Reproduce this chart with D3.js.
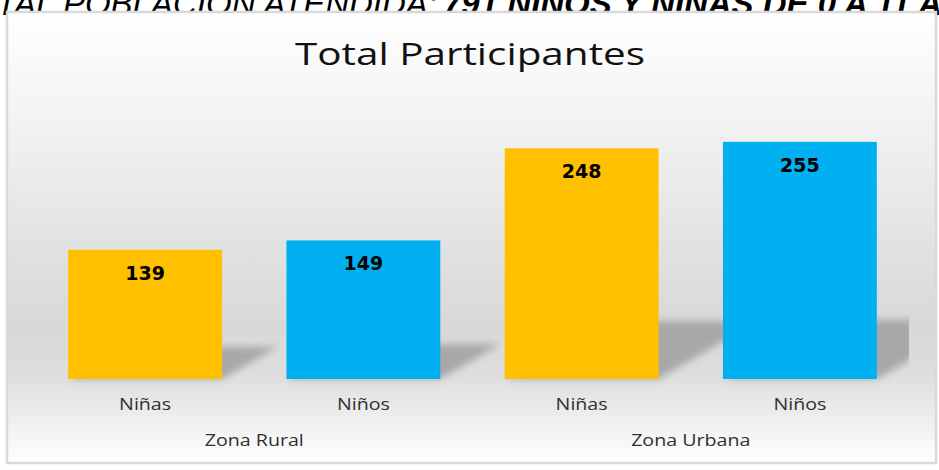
<!DOCTYPE html>
<html>
<head>
<meta charset="utf-8">
<script src="https://cdn.jsdelivr.net/npm/d3@7"></script>
<style>
  html, body { margin: 0; padding: 0; background: #ffffff; }
  svg { display: block; }
</style>
</head>
<body>
<svg id="chart" width="939" height="470"></svg>
<script>
// Participants by zone and sex
const zones = ["Zona Rural", "Zona Urbana"];
const groups = ["Niñas", "Niños"];
const categories = ["Rural|Niñas", "Rural|Niños", "Urbana|Niñas", "Urbana|Niños"];
const values = [139, 149, 248, 255];
const barColors = ["#FFC000", "#00B0F0", "#FFC000", "#00B0F0"];
const title = "Total Participantes";
const headerPlain = "TOTAL POBLACIÓN ATENDIDA:";
const headerBold = "791 NIÑOS Y NIÑAS DE 0 A 11 AÑOS";

const svg = d3.select("#chart");
const box = { x: 7, y: 12, w: 929, h: 451 };
const plot = { left: 36, right: 909, top: 100, bottom: 379 };
const stretch = 1.19;   // labels are set slightly wide

const defs = svg.append("defs");

// Background gradient of the chart frame
const bg = defs.append("linearGradient").attr("id", "bgGrad")
  .attr("x1", 0).attr("y1", 0).attr("x2", 0).attr("y2", 1);
[[0, "#ffffff"], [0.25, "#f2f2f2"], [0.55, "#e0e0e0"], [0.70, "#d8d8d8"], [0.80, "#dddddd"], [1, "#ffffff"]]
  .forEach(([o, c]) => bg.append("stop").attr("offset", o).attr("stop-color", c));

const blur = defs.append("filter").attr("id", "shadowBlur")
  .attr("x", "-30%").attr("y", "-30%").attr("width", "160%").attr("height", "160%");
blur.append("feGaussianBlur").attr("stdDeviation", 3.5);

defs.append("clipPath").attr("id", "plotClip")
  .append("rect").attr("x", box.x).attr("y", box.y)
  .attr("width", plot.right - box.x).attr("height", box.h);

// Header line above the chart, running off the top of the page
svg.append("text")
  .attr("x", 437).attr("y", 15)
  .attr("text-anchor", "end")
  .attr("font-family", "Liberation Sans, Arial, sans-serif")
  .attr("font-style", "italic")
  .attr("font-size", 33)
  .attr("fill", "#000")
  .text(headerPlain);
svg.append("text")
  .attr("x", 443).attr("y", 15)
  .attr("font-family", "Liberation Sans, Arial, sans-serif")
  .attr("font-style", "italic")
  .attr("font-weight", "bold")
  .attr("font-size", 33)
  .attr("fill", "#000")
  .text(headerBold);

// Chart frame
svg.append("rect")
  .attr("x", box.x).attr("y", box.y).attr("width", box.w).attr("height", box.h)
  .attr("fill", "url(#bgGrad)")
  .attr("stroke", "#d9d9d9").attr("stroke-width", 2.5);

const x = d3.scaleBand()
  .domain(categories)
  .range([plot.left, plot.right])
  .paddingInner(0.295)
  .paddingOuter(0.1475);

const y = d3.scaleLinear()
  .domain([0, 300])
  .range([plot.bottom, plot.top]);

// Perspective floor shadows behind each bar
const shadowG = svg.append("g").attr("clip-path", "url(#plotClip)");
categories.forEach((c, i) => {
  const x0 = x(c), x1 = x(c) + x.bandwidth();
  const h = y(0) - y(values[i]);
  const dx = h * 0.43, dy = h * 0.25;
  const b = y(0);
  shadowG.append("path")
    .attr("d", `M${x0},${b} L${x1},${b} L${x1 + dx},${b - dy} L${x0 + dx},${b - dy} Z`)
    .attr("fill", "#a6a6a6")
    .attr("opacity", 0.95)
    .attr("filter", "url(#shadowBlur)");
});

// Bars
svg.append("g").selectAll("rect")
  .data(categories)
  .join("rect")
  .attr("x", d => x(d))
  .attr("y", (d, i) => y(values[i]))
  .attr("width", x.bandwidth())
  .attr("height", (d, i) => y(0) - y(values[i]))
  .attr("fill", (d, i) => barColors[i]);

// Value labels inside the bars
svg.append("g").selectAll("text")
  .data(categories)
  .join("text")
  .attr("x", d => x(d) + x.bandwidth() / 2)
  .attr("y", (d, i) => y(values[i]) + 30)
  .attr("text-anchor", "middle")
  .attr("font-family", "DejaVu Sans, Verdana, sans-serif")
  .attr("font-weight", "bold")
  .attr("font-size", 19)
  .attr("fill", "#000")
  .text((d, i) => values[i]);

// Widened text placed with its anchor at (cx, cy)
const labelFont = "Open Sans, Liberation Sans, sans-serif";
function wideText(parent, cx, cy, str, size, color) {
  parent.append("text")
    .attr("transform", `translate(${cx},${cy}) scale(${stretch},1)`)
    .attr("text-anchor", "middle")
    .attr("font-family", labelFont)
    .attr("font-size", size)
    .attr("fill", color)
    .text(str);
}

// Category axis: group names, then zone names
const axisG = svg.append("g");
categories.forEach(c => {
  wideText(axisG, x(c) + x.bandwidth() / 2, 410, c.split("|")[1], 16.5, "#303030");
});
zones.forEach((z, j) => {
  const a = categories[j * 2], b = categories[j * 2 + 1];
  wideText(axisG, (x(a) + x(b) + x.bandwidth()) / 2, 446, z, 16.5, "#303030");
});

// Chart title
svg.append("text")
  .attr("x", 470).attr("y", 65)
  .attr("text-anchor", "middle")
  .attr("font-family", labelFont)
  .attr("font-size", 31)
  .attr("textLength", 350)
  .attr("lengthAdjust", "spacingAndGlyphs")
  .attr("fill", "#111")
  .text(title);
</script>
</body>
</html>
